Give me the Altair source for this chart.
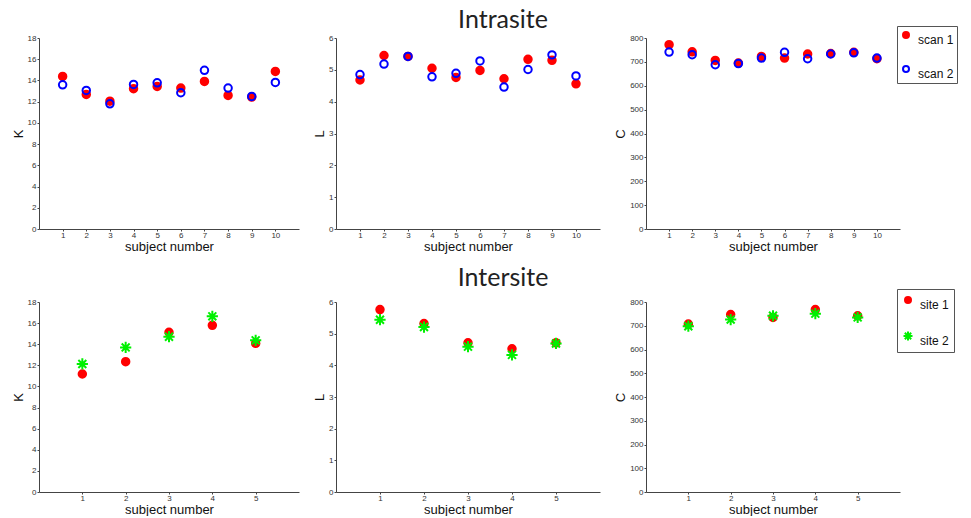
import altair as alt
import pandas as pd

# ---- data ----
subjects_intra = [1, 2, 3, 4, 5, 6, 7, 8, 9, 10]
K_scan1 = [14.38, 12.68, 12.05, 13.22, 13.44, 13.28, 13.91, 12.59, 12.43, 14.85]
K_scan2 = [13.59, 13.06, 11.80, 13.62, 13.78, 12.84, 14.95, 13.28, 12.49, 13.81]
L_scan1 = [4.68, 5.45, 5.42, 5.05, 4.76, 4.98, 4.72, 5.33, 5.30, 4.56]
L_scan2 = [4.85, 5.18, 5.42, 4.78, 4.89, 5.28, 4.46, 5.01, 5.47, 4.81]
C_scan1 = [772, 742, 706, 695, 723, 716, 733, 735, 740, 713]
C_scan2 = [741, 730, 688, 693, 716, 740, 713, 733, 738, 716]

subjects_inter = [1, 2, 3, 4, 5]
K_site1 = [11.18, 12.35, 15.13, 15.79, 14.08]
K_site2 = [12.13, 13.70, 14.71, 16.64, 14.37]
L_site1 = [5.76, 5.32, 4.71, 4.52, 4.71]
L_site2 = [5.44, 5.21, 4.59, 4.33, 4.69]
C_site1 = [707, 747, 735, 768, 742]
C_site2 = [698, 726, 742, 751, 735]

intra_series = ["scan 1", "scan 2"]
inter_series = ["site 1", "site 2"]

ASTERISK = "M-1.5,0L1.5,0M0,-1.5L0,1.5M-1.06,-1.06L1.06,1.06M-1.06,1.06L1.06,-1.06"


def make_df(subjects, series, k1, k2, l1, l2, c1, c2):
    rows = []
    for s, K, L, C in zip(subjects, k1, l1, c1):
        rows.append({"subject": s, "series": series[0], "K": K, "L": L, "C": C})
    for s, K, L, C in zip(subjects, k2, l2, c2):
        rows.append({"subject": s, "series": series[1], "K": K, "L": L, "C": C})
    return pd.DataFrame(rows)


df_intra = make_df(subjects_intra, intra_series, K_scan1, K_scan2, L_scan1, L_scan2, C_scan1, C_scan2)
df_inter = make_df(subjects_inter, inter_series, K_site1, K_site2, L_site1, L_site2, C_site1, C_site2)


def big_title(text, offset):
    return alt.TitleParams(
        text, font="Lato", fontSize=25, fontWeight="normal", color="#222",
        offset=offset, anchor="middle", frame="group", dx=35)


def panel(df, var, xmax, xticks, ymax, ystep, width, height, series, fills, strokes, shapes,
          legend_pos=None, title=None):
    if legend_pos is not None:
        leg = alt.Legend(orient="none", legendX=legend_pos[0], legendY=legend_pos[1], title=None,
                         padding=legend_pos[2],
                         labelExpr="datum.label + '\u00a0\u00a0'")
    else:
        leg = None
    enc = dict(
        x=alt.X("subject:Q",
                scale=alt.Scale(domain=[0, xmax], nice=False, zero=False),
                axis=alt.Axis(values=xticks, title="subject number", format="d")),
        y=alt.Y(f"{var}:Q",
                scale=alt.Scale(domain=[0, ymax], nice=False),
                axis=alt.Axis(values=list(range(0, ymax + 1, ystep)), title=var, format="d")),
        fill=alt.Fill("series:N", scale=alt.Scale(domain=series, range=fills), legend=leg),
        stroke=alt.Stroke("series:N", scale=alt.Scale(domain=series, range=strokes), legend=leg),
        shape=alt.Shape("series:N", scale=alt.Scale(domain=series, range=shapes), legend=leg),
        order=alt.Order("series:N"),
    )
    props = dict(width=width, height=height)
    if title is not None:
        props["title"] = title
    return alt.Chart(df).mark_point(size=56, strokeWidth=2, opacity=1).encode(**enc).properties(**props)


fills_intra = ["#ff0000", "transparent"]
strokes_intra = ["#ff0000", "#0000ff"]
shapes_intra = ["circle", "circle"]
fills_inter = ["#ff0000", "transparent"]
strokes_inter = ["#ff0000", "#00f000"]
shapes_inter = ["circle", ASTERISK]

ticks10 = list(range(1, 11))
ticks5 = list(range(1, 6))

p1 = panel(df_intra, "K", 11, ticks10, 18, 2, 260, 191, intra_series, fills_intra, strokes_intra, shapes_intra)
p2 = panel(df_intra, "L", 11, ticks10, 6, 1, 264, 191, intra_series, fills_intra, strokes_intra, shapes_intra,
           title=big_title("Intrasite", 1))
p3 = panel(df_intra, "C", 11, ticks10, 800, 100, 254, 191, intra_series, fills_intra, strokes_intra, shapes_intra,
           legend_pos=(251, -12, 3))

p4 = panel(df_inter, "K", 6, ticks5, 18, 2, 260, 190, inter_series, fills_inter, strokes_inter, shapes_inter)
p5 = panel(df_inter, "L", 6, ticks5, 6, 1, 264, 190, inter_series, fills_inter, strokes_inter, shapes_inter,
           title=big_title("Intersite", 7))
p6 = panel(df_inter, "C", 6, ticks5, 800, 100, 254, 190, inter_series, fills_inter, strokes_inter, shapes_inter,
           legend_pos=(251, -13, 5))

res = dict(x="independent", y="independent", fill="independent", stroke="independent", shape="independent")
lres = dict(fill="independent", stroke="independent", shape="independent")

row1 = alt.hconcat(p1, p2, p3, spacing=14).resolve_scale(**res).resolve_legend(**lres)
row2 = alt.hconcat(p4, p5, p6, spacing=14).resolve_scale(**res).resolve_legend(**lres)

chart = alt.vconcat(row1, row2, spacing=13).resolve_scale(**res).resolve_legend(**lres).properties(
    padding={"left": 4, "top": 0, "right": 0, "bottom": 0}
).configure_view(stroke=None).configure_axis(
    domainColor="#444", tickColor="#444", labelFont="Liberation Sans", labelFontSize=8,
    labelColor="#333", titleFont="Liberation Sans", titleFontSize=13, titleFontWeight="normal",
    titleColor="#111", grid=False, tickSize=2,
).configure_axisX(labelPadding=0, titlePadding=1, labelAngle=0).configure_axisY(
    labelPadding=1, titlePadding=2
).configure_legend(
    labelFont="Liberation Sans", labelFontSize=12, labelColor="#111", strokeColor="#555",
    rowPadding=16, symbolSize=36, symbolStrokeWidth=2, labelOffset=6,
    labelBaseline="top", symbolType="circle"
)

chart.save("out.html", embed_options={"renderer": "svg", "actions": False})
